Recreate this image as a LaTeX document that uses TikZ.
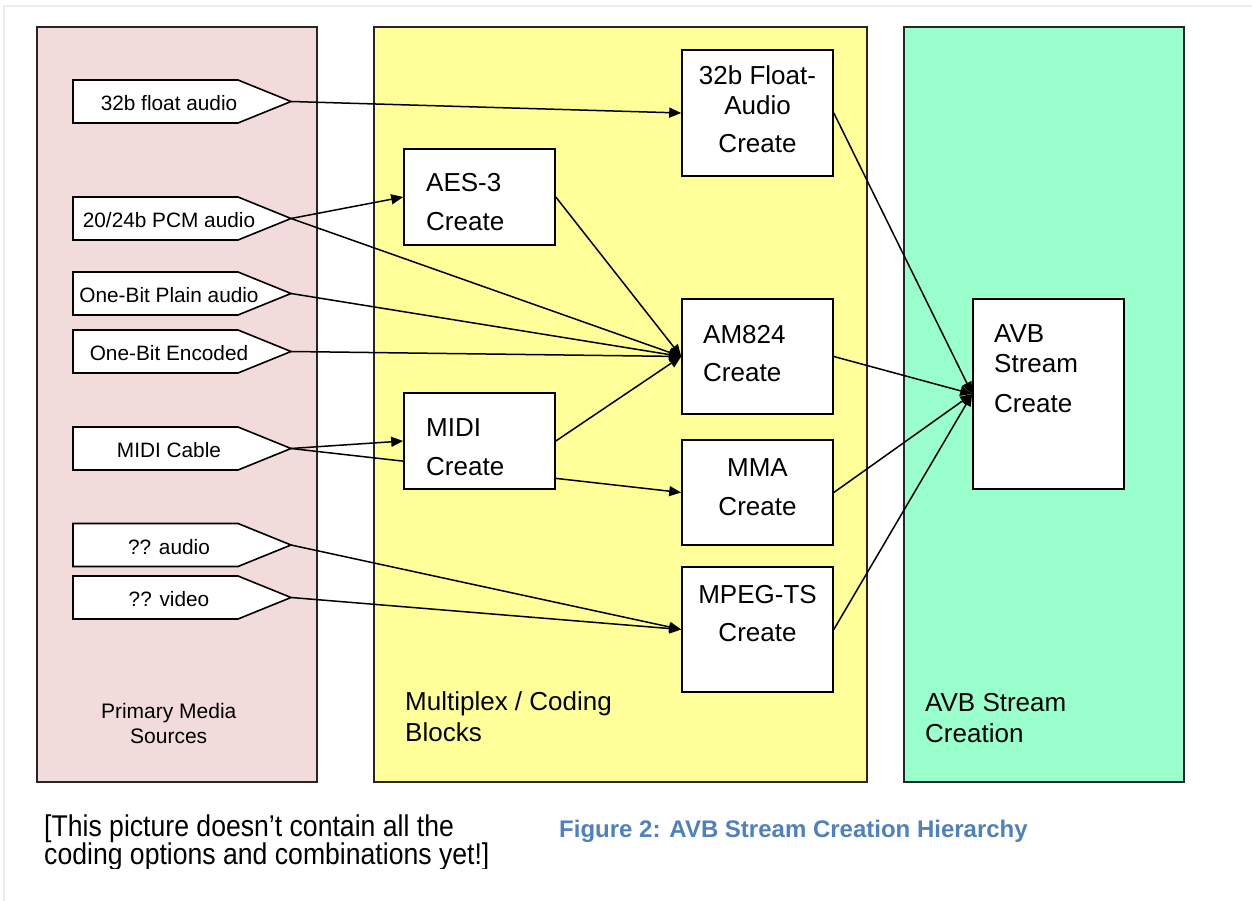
\documentclass[tikz,border=0pt]{standalone}
\usepackage{fontspec}
\setmainfont{Liberation Sans}
\usetikzlibrary{arrows.meta}
\definecolor{pinkbg}{RGB}{242,220,219}
\definecolor{yellowbg}{RGB}{255,255,153}
\definecolor{greenbg}{RGB}{153,255,204}
\definecolor{capblue}{RGB}{79,129,189}
\definecolor{framegrey}{RGB}{236,236,236}
\pgfdeclarelayer{bglayer}
\pgfdeclarelayer{connlayer}
\pgfsetlayers{bglayer,connlayer,main}
\newcommand\mysrc[3]{%
  \draw[srcshape] (73,{#2-21.5}) -- (238,{#2-21.5}) -- (291,#2) -- (238,{#2+21.5}) -- (73,{#2+21.5}) -- cycle;
  \coordinate (#1) at (291,#2);
  \node[srctext] (#1-label) at (169,{#2+9}) {#3};
}
\begin{document}
\begin{tikzpicture}[x=1pt,y=-1pt,
  panel/.style={draw=black!85, line width=1.8pt},
  block/.style={draw=black, fill=white, line width=1.6pt, inner sep=0pt, minimum width=151pt},
  srcshape/.style={draw=black, fill=white, line width=1.6pt, line join=miter},
  srctext/.style={font=\fontsize{20.8}{24}\selectfont, anchor=base, inner sep=0pt},
  btext/.style={font=\fontsize{26}{30}\selectfont, inner sep=0pt},
  ptext/.style={font=\fontsize{21}{25}\selectfont, inner sep=0pt, anchor=base},
  ltext/.style={font=\fontsize{26}{30}\selectfont, inner sep=0pt, anchor=base west},
  conn/.style={line width=1.5pt, -{Triangle[length=12pt,width=10pt]}}]
\useasboundingbox (0,0) rectangle (1252,901);

\begin{pgfonlayer}{bglayer}
  \fill[white] (0,0) rectangle (1252,901);
  \draw[framegrey, line width=1.5pt] (4,901) -- (4,6) -- (1252,6);
  \draw[panel, fill=pinkbg] (37,27) rectangle (317,782);
  \draw[panel, fill=yellowbg] (374,27) rectangle (867,782);
  \draw[panel, fill=greenbg] (904,27) rectangle (1184,782);
\end{pgfonlayer}

% panel labels
\node[ptext] (pl1) at (168.7,718) {Primary Media};
\node[ptext] (pl2) at (168.7,743) {Sources};
\node[ltext] (ml1) at (405,710) {Multiplex / Coding};
\node[ltext] (ml2) at (405,741) {Blocks};
\node[ltext] (al1) at (925,711) {AVB Stream};
\node[ltext] (al2) at (925,742) {Creation};

% sources
\mysrc{s32}{101.5}{32b float audio}
\mysrc{spcm}{218.5}{20/24b PCM audio}
\mysrc{splain}{293.5}{One-Bit Plain audio}
\mysrc{senc}{351.5}{One-Bit Encoded}
\mysrc{smidi}{448.5}{MIDI Cable}
\mysrc{saud}{545}{?? audio}
\mysrc{svid}{597.5}{?? video}

% blocks
\node[block, minimum height=126pt] (f32) at (757.5,113) {};
\node[btext, anchor=base] (f32a) at (757.5,85) {32b Float-};
\node[btext, anchor=base] (f32b) at (757.5,115) {Audio};
\node[btext, anchor=base] (f32c) at (757.5,153) {Create};

\node[block, minimum height=96pt] (aes) at (479.5,197) {};
\node[btext, anchor=base west] (aesa) at (426,192) {AES-3};
\node[btext, anchor=base west] (aesb) at (426,231) {Create};

\node[block, minimum height=115pt] (am) at (757.5,356.5) {};
\node[btext, anchor=base west] (ama) at (703,343) {AM824};
\node[btext, anchor=base west] (amb) at (703,381.5) {Create};

\node[block, minimum height=96pt] (midi) at (479.5,441) {};
\node[btext, anchor=base west] (midia) at (426,436) {MIDI};
\node[btext, anchor=base west] (midib) at (426,475) {Create};

\node[block, minimum height=105pt] (mma) at (757.5,492.5) {};
\node[btext, anchor=base] (mmaa) at (757.5,476) {MMA};
\node[btext, anchor=base] (mmab) at (757.5,515) {Create};

\node[block, minimum height=125pt] (mpeg) at (757.5,629.5) {};
\node[btext, anchor=base] (mpega) at (757.5,603) {MPEG-TS};
\node[btext, anchor=base] (mpegb) at (757.5,641) {Create};

\node[block, minimum height=190pt] (avb) at (1048.5,394) {};
\node[btext, anchor=base west] (avba) at (994,342) {AVB};
\node[btext, anchor=base west] (avbb) at (994,372) {Stream};
\node[btext, anchor=base west] (avbc) at (994,412) {Create};

% connectors
\begin{pgfonlayer}{connlayer}
  \draw[conn] (s32) -- (f32.west);
  \draw[conn] (spcm) -- (aes.west);
  \draw[conn] (spcm) -- (am.west);
  \draw[conn] (splain) -- (am.west);
  \draw[conn] (senc) -- (am.west);
  \draw[conn] (aes.east) -- (am.west);
  \draw[conn] (midi.east) -- (am.west);
  \draw[conn] (smidi) -- (midi.west);
  \draw[conn] (smidi) -- (mma.west);
  \draw[conn] (saud) -- (mpeg.west);
  \draw[conn] (svid) -- (mpeg.west);
  \draw[conn] (f32.east) -- (avb.west);
  \draw[conn] (am.east) -- (avb.west);
  \draw[conn] (mma.east) -- (avb.west);
  \draw[conn] (mpeg.east) -- (avb.west);
\end{pgfonlayer}

% captions
\begin{scope}
  \clip (0,0) rectangle (1252,868);
  \node[anchor=base west, inner sep=0pt] (cap1) at (44,836) {\scalebox{0.887}[1]{\fontsize{30}{34}\selectfont [This picture doesn’t contain all the}};
  \node[anchor=base west, inner sep=0pt] (cap2) at (44,864) {\scalebox{0.887}[1]{\fontsize{30}{34}\selectfont coding options and combinations yet!]}};
\end{scope}
\node[anchor=base west, inner sep=0pt, text=capblue, font=\bfseries\fontsize{24}{28}\selectfont] (fig) at (559,837) {Figure 2: AVB Stream Creation Hierarchy};
\end{tikzpicture}
\end{document}
